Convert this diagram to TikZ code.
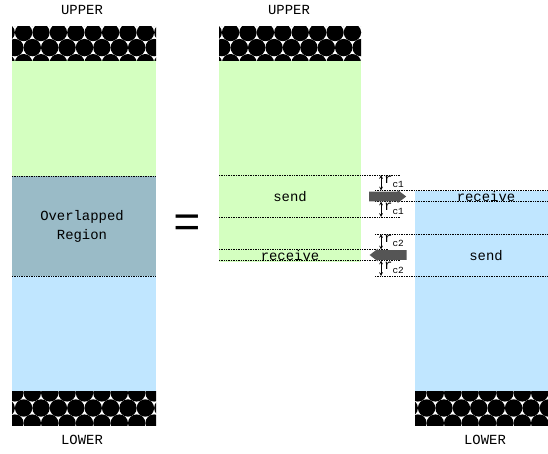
\documentclass[tikz,border=0pt]{standalone}
\usepackage{fontspec}
\setmainfont{Liberation Mono}
\usetikzlibrary{shapes.arrows}
\definecolor{upcolor}{RGB}{212,255,192}
\definecolor{lowcolor}{RGB}{192,230,255}
\definecolor{midcolor}{RGB}{154,187,199}
\definecolor{arrowcolor}{RGB}{85,85,85}
% one band of packed black circles, arguments: left, right, top, first row y
\newcommand{\hatchband}[4]{
	\begin{scope}
		\clip (#1, #3) rectangle (#2, #3+34);
		\fill[white] (#1, #3) rectangle (#2, #3+34);
		\foreach \row in {-1,0,1,2}{
			\pgfmathsetmacro{\rowy}{#4+15.1*\row}
			\pgfmathsetmacro{\rowx}{#1-23.2+8.7*mod(\row+2,2)}
			\foreach \col in {0,...,10}{
				\fill[black] (\rowx+17.4*\col, \rowy) circle (8.7);
			}
		}
	\end{scope}
}
\begin{document}
\begin{tikzpicture}[x=1pt, y=-1pt,
			every node/.style={font=\fontsize{13.9}{19}\selectfont, align=center},
			region/.style={rectangle, inner sep=0pt, outer sep=0pt},
			bound/.style={black, densely dotted, line width=0.7pt},
			gap/.style={<->, >=stealth, line width=0.7pt},
			gaplabel/.style={inner sep=0pt, anchor=west},
			flow/.style={single arrow, fill=arrowcolor, inner xsep=0pt, inner ysep=4.7pt, outer sep=0pt, minimum height=37pt, single arrow head extend=1.6pt, single arrow tip angle=75}]
			\useasboundingbox (0, 0) rectangle (548, 453);
			
			% left column
			\node[region, fill=upcolor, minimum width=144pt, minimum height=116pt](upper1) at (84, 118) {};
			\node[region, fill=midcolor, minimum width=144pt, minimum height=100pt](overlap) at (84, 226) {};
			\node[region, fill=lowcolor, minimum width=144pt, minimum height=115pt](lower1) at (84, 333.5) {};
			\node (overlaplabel) at (82, 226) {Overlapped \\ Region};
			\hatchband{12}{156}{26}{32.5}
			\hatchband{12}{156}{391}{408}
			\node (uplabel1) at (82, 10) {UPPER};
			\node (lowlabel1) at (82, 440) {LOWER};
			\draw[bound] (overlap.north west) -- (overlap.north east);
			\draw[bound] (overlap.south west) -- (overlap.south east);
			
			\node[font=\fontsize{46}{46}\selectfont] (equal) at (187, 226) {=};
			
			% middle column
			\node[region, fill=upcolor, minimum width=142pt, minimum height=201pt](upper2) at (290, 161) {};
			\hatchband{219}{361}{26}{32.5}
			\node (uplabel2) at (289, 10) {UPPER};
			\node (send1) at (290, 197) {send};
			\node (recv1) at (290, 256) {receive};
			
			% right column
			\node[region, fill=lowcolor, minimum width=133pt, minimum height=200pt](lower2) at (481.5, 291) {};
			\hatchband{415}{548}{391}{408}
			\node (lowlabel2) at (485, 440) {LOWER};
			\node (recv2) at (486, 197) {receive};
			\node (send2) at (486, 256) {send};
			
			% boundaries of the send and receive bands
			\foreach \name/\xa/\xb/\ypos in {a/219/400/175, b/219/400/217, c/219/388/249.5, d/219/400/260.5, e/375/548/190.5, f/375/548/201.5, g/375/548/234, h/375/548/276}{
				\coordinate (\name1) at (\xa, \ypos);
				\coordinate (\name2) at (\xb, \ypos);
				\draw[bound] (\name1) -- (\name2);
			}
			
			% margins
			\foreach \name/\ya/\yb/\ylab/\sub in {p/175/190.5/182/c1, q/201.5/217/209/c1, s/234/249.5/241/c2, t/260.5/276/268/c2}{
				\coordinate (\name1) at (381, \ya);
				\coordinate (\name2) at (381, \yb);
				\draw[gap] (\name1) -- (\name2);
				\node[gaplabel] (\name label) at (384, \ylab) {r\raisebox{-3.5pt}{\fontsize{9.4}{10}\selectfont\sub}};
			}
			
			\node[flow] (sendarrow) at (384.5, 196.5) {};
			\node[flow, shape border rotate=180] (recvarrow) at (391.3, 255) {};
			\end{tikzpicture}
\end{document}
